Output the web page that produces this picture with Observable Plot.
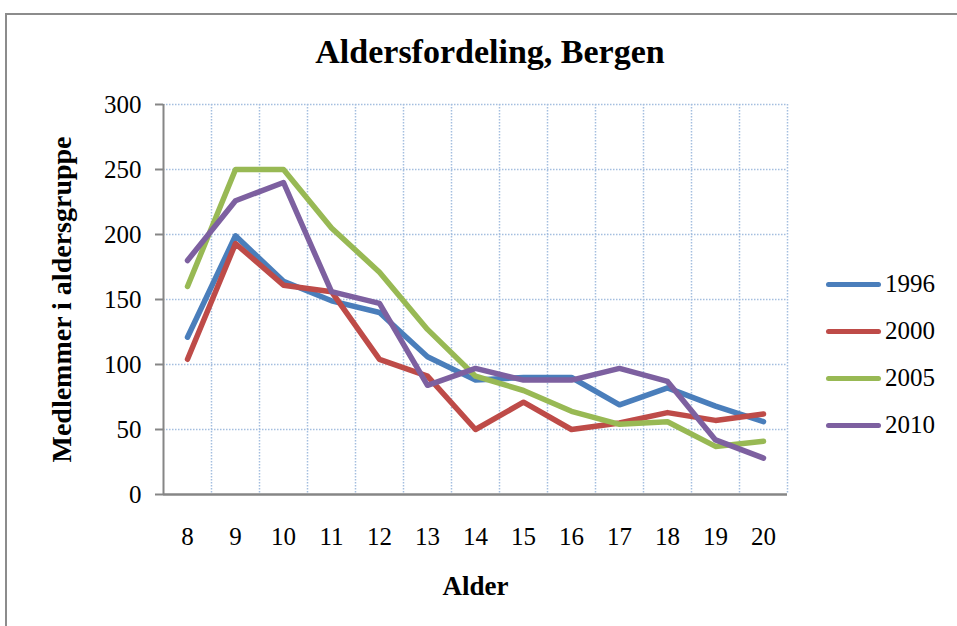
<!DOCTYPE html>
<html>
<head>
<meta charset="utf-8">
<script src="https://cdn.jsdelivr.net/npm/d3@7"></script>
<script src="https://cdn.jsdelivr.net/npm/@observablehq/plot@0.6"></script>
<style>
  html, body { margin: 0; padding: 0; background: #fff; }
  #wrap { position: relative; width: 957px; height: 626px; overflow: hidden; font-family: "Liberation Serif", serif; }
  #frame { position: absolute; left: 5px; top: 13px; width: 1000px; height: 700px; border-top: 2px solid #8c8c8c; border-left: 2px solid #8c8c8c; }
  #title { position: absolute; left: 0; width: 980px; top: 33px; text-align: center; font-family: "Liberation Serif", serif; font-weight: bold; font-size: 34px; color: #000; }
  .leg { position: absolute; left: 826px; height: 20px; display: flex; align-items: center; font-size: 25px; color: #000; }
  .leg span.sw { display: inline-block; width: 55px; height: 5px; border-radius: 3px; margin-right: 4px; }
  #chart { position: absolute; left: 0; top: 0; }
</style>
</head>
<body>
<div id="wrap">
  <div id="frame"></div>
  <div id="chart"></div>
  <div id="title">Aldersfordeling, Bergen</div>
</div>
<script>
const ages = [8, 9, 10, 11, 12, 13, 14, 15, 16, 17, 18, 19, 20];
const years = ["1996", "2000", "2005", "2010"];
const v1996 = [121, 199, 164, 149, 140, 106, 88, 90, 90, 69, 82, 68, 56];
const v2000 = [104, 193, 161, 156, 104, 91, 50, 71, 50, 55, 63, 57, 62];
const v2005 = [160, 250, 250, 205, 171, 127, 91, 80, 64, 54, 56, 37, 41];
const v2010 = [180, 226, 240, 156, 147, 84, 97, 88, 88, 97, 87, 42, 28];
const yTicks = [0, 50, 100, 150, 200, 250, 300];
const colors = ["#4a7ebb", "#be4b48", "#98b954", "#7d60a0"];

const series = [v1996, v2000, v2005, v2010];
const data = years.flatMap((yr, i) => ages.map((a, j) => ({age: a, value: series[i][j], year: yr})));
const gridX = ages.map(a => a + 0.5);
const gridY = yTicks.filter(v => v > 0);

const chart = Plot.plot({
  width: 957,
  height: 626,
  marginLeft: 163,
  marginRight: 170,
  marginTop: 104,
  marginBottom: 132,
  style: {fontFamily: "'Liberation Serif', serif", fontSize: "25px", color: "#000", background: "transparent"},
  x: {type: "linear", domain: [7.5, 20.5]},
  y: {domain: [0, 300]},
  color: {domain: years, range: colors},
  marks: [
    Plot.ruleY(gridY, {stroke: "#a4bedf", strokeWidth: 1.5, strokeDasharray: "1.5,1.5"}),
    Plot.ruleX(gridX, {stroke: "#a4bedf", strokeWidth: 1.5, strokeDasharray: "1.5,1.5"}),
    Plot.ruleX([7.5], {stroke: "#868686", strokeWidth: 2}),
    Plot.ruleY([0], {stroke: "#868686", strokeWidth: 2.5}),
    Plot.axisY({ticks: yTicks, tickSize: 8, tickPadding: 14, stroke: "#868686", strokeWidth: 2, fontSize: 25, label: null}),
    Plot.axisX({ticks: ages, tickSize: 0, tickPadding: 33, tickFormat: d => String(d), fontSize: 25, label: null}),
    Plot.line(data, {x: "age", y: "value", z: "year", stroke: "year", strokeWidth: 5.5, strokeLinecap: "round", strokeLinejoin: "round"}),
    Plot.text(["Medlemmer i aldersgruppe"], {frameAnchor: "left", textAnchor: "middle", dx: -101, rotate: -90, fontWeight: "bold", fontSize: 28, fill: "#000"}),
    Plot.text(["Alder"], {frameAnchor: "bottom", dy: 100, fontWeight: "bold", fontSize: 27, fill: "#000"})
  ]
});
document.getElementById("chart").appendChild(chart);

const wrap = document.getElementById("wrap");
const legTops = [274, 321, 368, 415];
years.forEach((yr, i) => {
  const d = document.createElement("div");
  d.className = "leg";
  d.style.top = legTops[i] + "px";
  const sw = document.createElement("span");
  sw.className = "sw";
  sw.style.background = colors[i];
  d.appendChild(sw);
  d.appendChild(document.createTextNode(yr));
  wrap.appendChild(d);
});
</script>
</body>
</html>
